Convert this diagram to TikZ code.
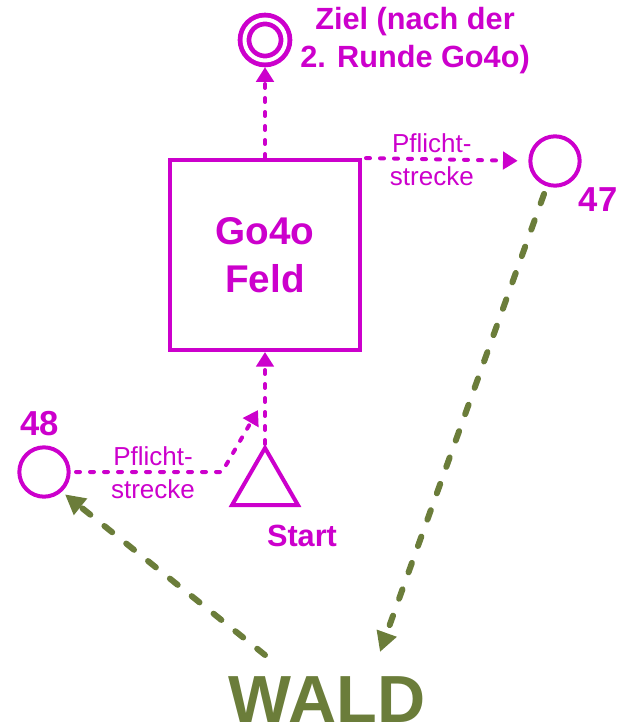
\documentclass[tikz,border=0pt]{standalone}
\usepackage{fontspec}
\setmainfont{Liberation Sans}
\usetikzlibrary{arrows.meta}
\usetikzlibrary{shapes.geometric}
\definecolor{lila}{RGB}{204,0,204}
\definecolor{waldgruen}{RGB}{107,125,58}

\begin{document}
\begin{tikzpicture}
     [x=0.75pt,y=-0.75pt,line cap=round,
      % Styles
        posten/.style={circle,draw=lila,line width=3pt,minimum size=37pt,inner sep=0pt},
        pflicht/.style={lila,line width=3pt,dash pattern=on 3pt off 7.5pt,
          -{Triangle[length=11pt,width=13pt]}},
        waldweg/.style={waldgruen,line width=4.5pt,dash pattern=on 7.5pt off 13.5pt,
          -{Triangle[length=15pt,width=15pt]}},
        pflicht text/.style={lila,align=center,font=\fontsize{19.5}{25}\selectfont},
        fett/.style={lila,font=\bfseries\fontsize{26}{30}\selectfont}]
    \useasboundingbox (0,0) rectangle (625,727);
    % Posten
    \node[circle,draw=lila,line width=3.6pt,double=white,double distance=3pt,
          minimum size=30.75pt,inner sep=0pt,outer sep=5pt] (ziel) at (265,40) {};
    \node[lila,align=center,font=\bfseries\fontsize{23}{28.5}\selectfont]
          (ziel text) at (415,41) {Ziel (nach der\\2. Runde Go4o)};
    \node[rectangle,draw=lila,line width=3pt,minimum width=142.5pt,minimum height=142.5pt,
          lila,align=center,font=\bfseries\fontsize{29}{36}\selectfont]
          (feld) at (265,255) {Go4o\\Feld};
    \node[posten] (p47) at (555,161) {};
    \node[fett] (n47) at (598,200) {47};
    \node[posten] (p48) at (44,472) {};
    \node[fett] (n48) at (40,424) {48};
    \node[regular polygon,regular polygon sides=3,draw=lila,line width=3pt,
          minimum size=57pt,inner sep=0pt] (start) at (265,486) {};
    \node[lila,font=\bfseries\fontsize{23}{28}\selectfont] (start text) at (302,536) {Start};
    \node[waldgruen,font=\bfseries\fontsize{50}{60}\selectfont] (wald) at (327,700) {WALD};
    \coordinate (wald in) at (380,652);
    \coordinate (wald out) at (265,655);
    \coordinate (knick) at (222,472);
    \coordinate (knick end) at (258,410);
    % Wege
    \draw[pflicht] (start.north) -- (feld.south);
    \draw[pflicht] (feld.north) -- (ziel.south);
    \draw[pflicht,shorten >=8pt,shorten <=3pt] (feld.north east) -- (p47.west)
        node[pflicht text,midway,xshift=-10pt,yshift=0pt] (pflicht47) {Pflicht-\\strecke};
    \draw[pflicht,shorten <=4pt] (p48.east) -- (knick) -- (knick end);
    \node[pflicht text] (pflicht48) at (153,473) {Pflicht-\\strecke};
    % durch den Wald
    \draw[waldweg,shorten <=6pt] (p47.252) -- (wald in);
    \draw[waldweg,shorten >=3pt] (wald out) -- (p48.-48);
  \end{tikzpicture}
\end{document}
